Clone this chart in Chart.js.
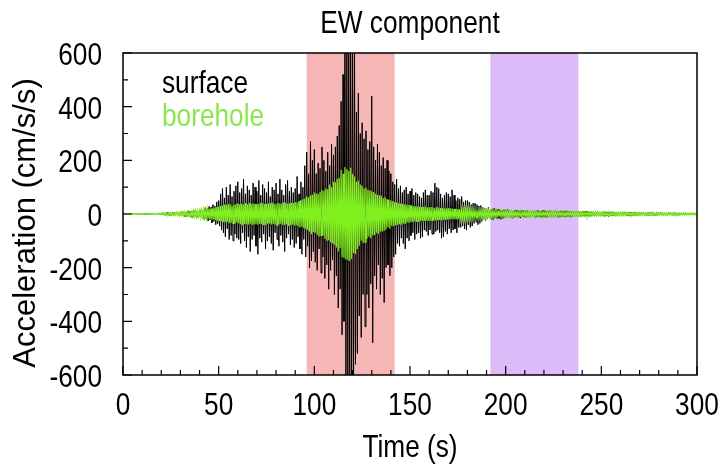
<!DOCTYPE html>
<html>
<head>
<meta charset="utf-8">
<script src="https://cdn.jsdelivr.net/npm/chart.js@4.4.1/dist/chart.umd.min.js"></script>
<style>
  html, body { margin: 0; padding: 0; background: #fff; }
  #wrap { width: 721px; height: 467px; }
</style>
</head>
<body>
<div id="wrap"><canvas id="chart" width="721" height="467"></canvas></div>
<script>
// sample interval of the records (s)
var dt = 0.5;

// surface record, cm/s/s, t = 0 .. 300 s, each row is 10 s
var surface = [
  0, -1, 1, -1, 1, -2, 1, -1, 2, -1, 1, -2, 2, -1, 1, -2, 2, -1, 1, -2,
  2, -2, 1, -2, 3, -1, 2, -3, 2, -2, 3, -2, 2, -3, 3, -2, 2, -3, 4, -2,
  4, -3, 5, -4, 3, -5, 6, -4, 5, -6, 4, -5, 7, -5, 6, -4, 8, -6, 5, -7,
  8, -7, 10, -6, 9, -11, 7, -9, 12, -8, 10, -12, 9, -13, 14, -10, 12, -15, 11, -14,
  16, -13, 20, -17, 15, -22, 24, -18, 20, -26, 28, -22, 25, -32, 35, -28, 30, -40, 45, -36,
  50, -45, 75, -60, 95, -70, 60, -85, 100, -55, 70, -95, 110, -80, 65, -100, 85, -75, 105, -90,
  120, -95, 80, -110, 95, -70, 130, -100, 75, -125, 105, -85, 90, -140, 70, -95, 115, -80, 100, -120,
  85, -150, 125, -90, 70, -105, 110, -75, 95, -130, 80, -100, 120, -85, 65, -110, 100, -135, 90, -70,
  115, -95, 75, -120, 130, -80, 90, -105, 70, -140, 110, -90, 125, -75, 85, -115, 100, -95, 80, -125,
  95, -110, 140, -85, 75, -130, 120, -150, 100, -95, 180, -160, 230, -120, 150, -200, 270, -175, 200, -140,
  240, -180, 150, -210, 190, -130, 170, -220, 250, -160, 200, -240, 160, -190, 230, -280, 180, -210, 260, -170,
  220, -300, 250, -230, 290, -350, 330, -280, 420, -450, 520, -400, 640, -650, 700, -600, 660, -680, 720, -700,
  650, -640, 600, -560, 380, -520, 450, -380, 300, -460, 340, -300, 280, -420, 310, -300, 240, -350, 270, -260,
  440, -480, 250, -230, 200, -280, 260, -190, 230, -300, 180, -240, 210, -330, 170, -200, 200, -190, 160, -230,
  150, -200, 120, -160, 110, -150, 130, -110, 95, -120, 105, -90, 80, -110, 90, -130, 100, -90, 75, -100,
  85, -80, 95, -70, 70, -95, 80, -75, 75, -70, 65, -90, 60, -85, 80, -60, 90, -65, 70, -80,
  70, -60, 85, -75, 80, -75, 115, -65, 100, -60, 95, -70, 75, -90, 60, -85, 70, -65, 80, -75,
  75, -55, 65, -70, 90, -60, 70, -55, 50, -70, 60, -50, 55, -50, 65, -45, 45, -55, 50, -60,
  50, -40, 45, -50, 35, -45, 40, -35, 40, -30, 35, -40, 30, -35, 32, -28, 25, -20, 22, -25,
  20, -18, 25, -15, 15, -20, 18, -22, 22, -15, 16, -18, 18, -16, 14, -20, 14, -18, 16, -14,
  16, -12, 18, -14, 14, -15, 13, -16, 12, -14, 15, -11, 15, -12, 12, -14, 13, -11, 14, -12,
  12, -13, 14, -11, 11, -14, 12, -10, 13, -10, 11, -13, 12, -12, 14, -11, 10, -13, 12, -10,
  14, -12, 12, -13, 11, -10, 13, -12, 12, -11, 10, -12, 13, -9, 11, -12, 10, -12, 12, -10,
  11, -10, 12, -11, 12, -9, 10, -12, 10, -11, 11, -9, 9, -10, 10, -9, 11, -9, 9, -10,
  9, -8, 10, -9, 10, -7, 8, -9, 8, -9, 9, -7, 7, -8, 9, -8, 9, -7, 8, -8,
  8, -7, 8, -9, 9, -8, 7, -8, 7, -6, 8, -7, 8, -7, 7, -8, 6, -8, 8, -6,
  7, -6, 8, -7, 8, -5, 6, -7, 6, -7, 7, -5, 5, -6, 7, -6, 7, -6, 6, -7,
  6, -5, 7, -6, 7, -6, 5, -6, 5, -6, 6, -5, 6, -5, 5, -6, 4, -6, 6, -5,
  5, -4, 6, -5, 6, -5, 4, -5, 4, -5, 5, -4, 5, -4, 4, -5, 5, -4, 4, -5,
  4, -5, 4, -4, 4, -3, 5, -4, 5, -4, 3, -4, 4, -3, 4, -3, 4, -3, 3, -3,
  2
];

// borehole record, cm/s/s
var borehole = [
  0, -1, 1, -1, 1, -1, 1, -1, 1, -1, 1, -1, 1, -1, 1, -1, 1, -1, 1, -1,
  1, -1, 2, -1, 1, -2, 2, -1, 2, -1, 2, -2, 1, -2, 2, -2, 2, -1, 2, -2,
  3, -2, 3, -3, 4, -3, 3, -4, 4, -3, 5, -4, 4, -5, 5, -4, 6, -5, 5, -6,
  6, -6, 7, -7, 8, -6, 7, -8, 9, -8, 9, -9, 10, -9, 10, -11, 11, -10, 12, -11,
  12, -13, 14, -12, 15, -14, 16, -15, 18, -17, 19, -18, 20, -21, 22, -20, 24, -23, 26, -25,
  28, -26, 30, -28, 32, -30, 35, -31, 33, -29, 38, -34, 36, -33, 30, -35, 34, -36, 37, -32,
  40, -35, 36, -38, 38, -42, 35, -37, 41, -38, 36, -40, 42, -36, 38, -41, 40, -39, 37, -38,
  36, -40, 39, -37, 42, -38, 40, -42, 37, -41, 38, -36, 39, -35, 41, -39, 43, -37, 38, -40,
  38, -42, 41, -38, 40, -36, 39, -41, 44, -40, 42, -39, 38, -45, 40, -42, 42, -40, 41, -43,
  45, -42, 44, -46, 48, -50, 52, -47, 55, -52, 58, -55, 65, -60, 62, -66, 70, -75, 72, -68,
  80, -70, 76, -78, 75, -85, 82, -80, 90, -80, 86, -92, 95, -100, 92, -98, 110, -105, 100, -110,
  120, -115, 118, -125, 130, -140, 135, -128, 165, -160, 150, -165, 175, -170, 168, -172, 160, -175, 172, -168,
  150, -145, 140, -150, 120, -130, 125, -118, 110, -100, 105, -108, 95, -105, 98, -92, 90, -85, 88, -90,
  85, -80, 82, -78, 75, -70, 72, -75, 70, -65, 68, -66, 60, -62, 62, -58, 55, -50, 52, -55,
  50, -45, 48, -46, 45, -42, 44, -40, 40, -38, 39, -40, 38, -35, 36, -37, 35, -32, 34, -33,
  33, -30, 32, -31, 30, -28, 29, -30, 28, -30, 27, -26, 26, -25, 27, -26, 28, -24, 25, -26,
  25, -26, 26, -24, 24, -22, 23, -25, 26, -23, 24, -22, 22, -24, 23, -21, 20, -22, 21, -20,
  22, -20, 21, -19, 20, -18, 19, -20, 19, -20, 18, -19, 18, -17, 17, -18, 16, -18, 17, -16,
  17, -15, 16, -16, 15, -16, 15, -14, 14, -13, 14, -14, 14, -12, 13, -13, 13, -12, 12, -13,
  12, -11, 12, -12, 11, -12, 11, -10, 10, -11, 11, -11, 11, -10, 10, -10, 10, -9, 10, -10,
  10, -9, 9, -10, 9, -10, 10, -9, 9, -8, 8, -9, 9, -9, 9, -8, 8, -9, 9, -8,
  9, -8, 8, -9, 8, -9, 9, -8, 8, -8, 8, -8, 9, -7, 8, -8, 8, -8, 7, -8,
  8, -7, 8, -8, 8, -8, 7, -8, 7, -7, 7, -7, 8, -7, 7, -7, 7, -8, 8, -7,
  7, -7, 7, -7, 8, -6, 7, -7, 7, -7, 7, -6, 6, -7, 7, -7, 7, -6, 6, -7,
  7, -6, 6, -6, 6, -7, 7, -6, 6, -6, 6, -6, 7, -5, 6, -6, 6, -6, 6, -5,
  6, -5, 6, -6, 6, -6, 5, -6, 5, -6, 6, -5, 6, -5, 5, -5, 5, -6, 5, -5,
  5, -5, 5, -5, 6, -5, 5, -5, 5, -5, 5, -4, 4, -5, 5, -5, 5, -4, 4, -5,
  5, -4, 4, -5, 4, -5, 4, -4, 4, -4, 4, -5, 5, -4, 4, -4, 4, -4, 4, -4,
  4, -4, 4, -4, 4, -3, 4, -4, 4, -4, 3, -4, 3, -4, 4, -3, 4, -3, 3, -4,
  3, -4, 3, -3, 3, -3, 4, -3, 3, -3, 3, -3, 3, -3, 3, -3, 3, -3, 3, -3,
  2
];

// shaded time windows (s)
var bandStart = [96, 192];
var bandEnd = [142, 238];
var bandColors = ['#f6b6b6', '#dcbcf8'];

var seriesNames = ['surface', 'borehole'];
var seriesColors = ['#000000', '#7ff01e'];
var chartTitle = 'EW component';
var xTitle = 'Time (s)';
var yTitle = 'Acceleration (cm/s/s)';

function toPoints(vals) {
  return vals.map(function (v, i) { return { x: i * dt, y: v }; });
}

var font = "'Liberation Sans', Arial, sans-serif";
// the reference lettering is narrower than Liberation Sans
var squeeze = 0.82;

function drawText(ctx, text, x, y, align, color) {
  ctx.save();
  ctx.translate(x, y);
  ctx.scale(squeeze, 1);
  ctx.font = '32px ' + font;
  ctx.textAlign = align;
  ctx.textBaseline = 'alphabetic';
  ctx.fillStyle = color;
  ctx.fillText(text, 0, 0);
  ctx.restore();
}

var framePlugin = {
  id: 'frame',
  beforeDatasetsDraw: function (chart) {
    var ctx = chart.ctx, a = chart.chartArea, x = chart.scales.x;
    ctx.save();
    for (var i = 0; i < bandStart.length; i++) {
      var x0 = x.getPixelForValue(bandStart[i]);
      var x1 = x.getPixelForValue(bandEnd[i]);
      ctx.fillStyle = bandColors[i];
      ctx.fillRect(x0, a.top, x1 - x0, a.bottom - a.top);
    }
    ctx.restore();
  },
  afterDatasetsDraw: function (chart) {
    var ctx = chart.ctx, a = chart.chartArea;
    var x = chart.scales.x, y = chart.scales.y;
    ctx.save();
    ctx.strokeStyle = '#000';
    ctx.lineWidth = 1.5;
    ctx.strokeRect(a.left, a.top, a.right - a.left, a.bottom - a.top);
    ctx.lineWidth = 1.2;
    ctx.beginPath();
    x.ticks.forEach(function (t) {
      var px = x.getPixelForValue(t.value);
      var len = t.value % 50 === 0 ? 9 : 5;
      ctx.moveTo(px, a.bottom);
      ctx.lineTo(px, a.bottom - len);
    });
    y.ticks.forEach(function (t) {
      var py = y.getPixelForValue(t.value);
      var len = t.value % 200 === 0 ? 9 : 5;
      ctx.moveTo(a.left, py);
      ctx.lineTo(a.left + len, py);
    });
    ctx.stroke();
    ctx.restore();

    // tick labels
    x.ticks.forEach(function (t) {
      if (t.value % 50 !== 0) return;
      drawText(ctx, String(t.value), x.getPixelForValue(t.value), a.bottom + 40, 'center', '#000');
    });
    y.ticks.forEach(function (t) {
      if (t.value % 200 !== 0) return;
      drawText(ctx, String(t.value), a.left - 21, y.getPixelForValue(t.value) + 12, 'right', '#000');
    });

    // titles
    var cx = (a.left + a.right) / 2;
    drawText(ctx, chartTitle, cx, 33, 'center', '#000');
    drawText(ctx, xTitle, cx, 457, 'center', '#000');

    // legend as coloured text
    drawText(ctx, seriesNames[0], a.left + 39, a.top + 40, 'left', seriesColors[0]);
    drawText(ctx, seriesNames[1], a.left + 39, a.top + 73, 'left', '#8ce64e');

    // y axis title (runs along the axis, so not squeezed)
    ctx.save();
    ctx.translate(26, (a.top + a.bottom) / 2 + 9);
    ctx.rotate(-Math.PI / 2);
    ctx.font = '31px ' + font;
    ctx.textAlign = 'center';
    ctx.textBaseline = 'middle';
    ctx.fillStyle = '#000';
    ctx.fillText(yTitle, 0, 0);
    ctx.restore();
  }
};

var ctx = document.getElementById('chart');
var myChart = new Chart(ctx, {
  type: 'line',
  data: {
    datasets: [
      {
        label: seriesNames[0],
        data: toPoints(surface),
        borderColor: seriesColors[0],
        borderWidth: 1,
        pointRadius: 0,
        tension: 0,
        order: 2
      },
      {
        label: seriesNames[1],
        data: toPoints(borehole),
        borderColor: seriesColors[1],
        borderWidth: 1.2,
        pointRadius: 0,
        tension: 0,
        order: 1
      }
    ]
  },
  options: {
    responsive: false,
    animation: false,
    layout: { padding: { top: 53, left: 0, right: 0, bottom: 0 } },
    plugins: {
      legend: { display: false },
      tooltip: { enabled: false },
      title: { display: false }
    },
    scales: {
      x: {
        type: 'linear',
        min: 0,
        max: 300,
        grid: { display: false, drawTicks: false },
        border: { display: false },
        ticks: { stepSize: 10, autoSkip: false, display: false },
        afterFit: function (s) { s.height = 92; s.paddingLeft = 0; s.paddingRight = 24; }
      },
      y: {
        min: -600,
        max: 600,
        grid: { display: false, drawTicks: false },
        border: { display: false },
        ticks: { stepSize: 100, autoSkip: false, display: false },
        afterFit: function (s) { s.width = 123; s.paddingTop = 0; s.paddingBottom = 0; }
      }
    }
  },
  plugins: [framePlugin]
});
</script>
</body>
</html>
